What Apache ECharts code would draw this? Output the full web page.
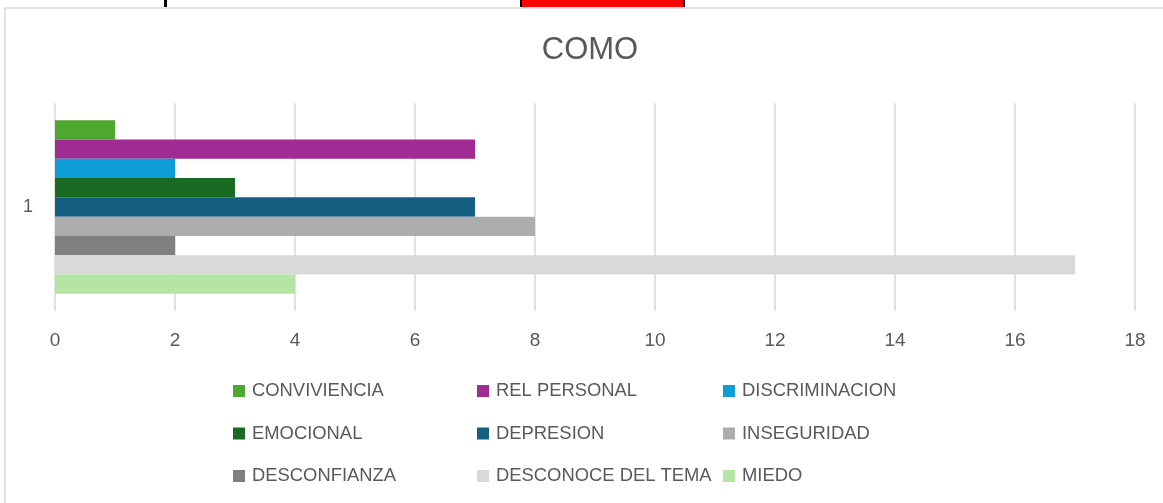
<!DOCTYPE html>
<html>
<head>
<meta charset="utf-8">
<script src="https://cdn.jsdelivr.net/npm/echarts@6/dist/echarts.min.js"></script>
<style>html,body{margin:0;padding:0;background:#fff;}#c{width:1163px;height:503px;}</style>
</head>
<body>
<div id="c"></div>
<script>
const categories = ['1'];
const seriesNames = ['CONVIVIENCIA','REL PERSONAL','DISCRIMINACION','EMOCIONAL','DEPRESION','INSEGURIDAD','DESCONFIANZA','DESCONOCE DEL TEMA','MIEDO'];
const seriesValues = [1, 7, 2, 3, 7, 8, 2, 17, 4];
const seriesColors = ['#4EA72E','#A02B93','#0E9ED5','#196B24','#156082','#ADADAD','#808080','#D9D9D9','#B4E5A2'];
const xTicks = { min: 0, max: 18, interval: 2 };

const FONT = '"Liberation Sans", Arial, sans-serif';
const chart = echarts.init(document.getElementById('c'), null, {renderer: 'canvas'});

const legendCols = [0,1,2].map(c => ({
  orient: 'vertical',
  left: [228, 472, 718][c],
  top: 376,
  itemWidth: 12,
  itemHeight: 12,
  itemGap: 22.5,
  icon: 'rect',
  textStyle: { color: '#595959', fontSize: 18.4, fontFamily: FONT, lineHeight: 20, padding: [0,0,0,2] },
  data: [seriesNames[c], seriesNames[c+3], seriesNames[c+6]],
  selectedMode: false
}));

chart.setOption({
  animation: false,
  backgroundColor: '#fff',
  title: {
    text: 'COMO', left: 585, top: 30, textAlign: 'center',
    textStyle: { color: '#595959', fontSize: 31, fontWeight: 'normal', fontFamily: FONT }
  },
  legend: legendCols,
  grid: { left: 55, right: 28, top: 103, bottom: 192, containLabel: false },
  xAxis: {
    type: 'value', min: xTicks.min, max: xTicks.max, interval: xTicks.interval,
    axisLine: { show: false }, axisTick: { show: false },
    splitLine: { lineStyle: { color: '#D9D9D9', width: 1.5 } },
    axisLabel: { color: '#595959', fontSize: 19, fontFamily: FONT, margin: 20 }
  },
  yAxis: {
    type: 'category', data: categories, inverse: false,
    axisLine: { show: false }, axisTick: { show: false },
    axisLabel: { color: '#595959', fontSize: 18, fontFamily: FONT, margin: 22 }
  },
  series: seriesNames.map((n, i) => ({
    name: n, type: 'bar', data: [seriesValues[i]],
    itemStyle: { color: seriesColors[i] },
    barGap: '0%', barCategoryGap: '16.5%'
  })),
  graphic: [
    { type: 'rect', shape: { x: 5, y: 8, width: 1200, height: 600 }, style: { fill: 'none', stroke: '#D9D9D9', lineWidth: 1.5 }, silent: true },
    { type: 'rect', shape: { x: 164, y: 0, width: 3, height: 7 }, style: { fill: '#000' }, silent: true },
    { type: 'rect', shape: { x: 520, y: 0, width: 165, height: 7 }, style: { fill: '#000' }, silent: true },
    { type: 'rect', shape: { x: 522, y: 0, width: 161, height: 7 }, style: { fill: '#FF0000' }, silent: true }
  ]
});
</script>
</body>
</html>
